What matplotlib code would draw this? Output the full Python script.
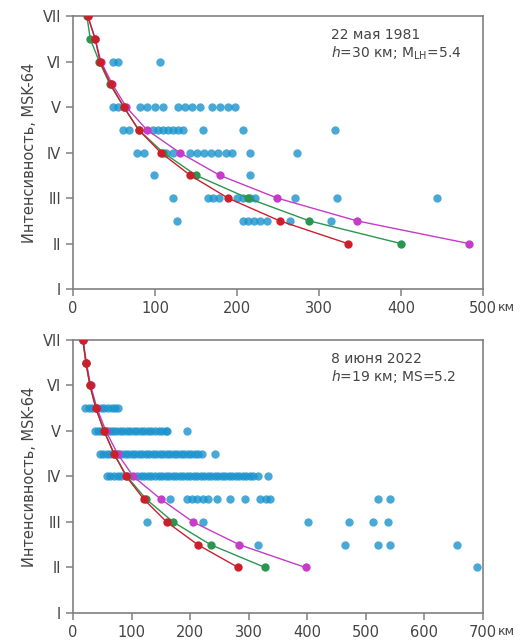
import matplotlib.pyplot as plt

roman = ["I", "II", "III", "IV", "V", "VI", "VII"]
levels = [7, 6.5, 6, 5.5, 5, 4.5, 4, 3.5, 3, 2.5, 2]

# 22 May 1981: observed points (distance km) per intensity level
obs1 = {
    6.0: [49, 55, 106],
    5.0: [49, 55, 82, 90, 100, 110, 128, 137, 145, 155, 169, 179, 189, 198],
    4.5: [61, 68, 98, 104, 110, 116, 122, 128, 134, 159, 207, 320],
    4.0: [78, 87, 114, 122, 143, 151, 160, 168, 177, 186, 194, 216, 273],
    3.5: [99, 216],
    3.0: [122, 165, 171, 178, 200, 207, 216, 222, 271, 322, 444],
    2.5: [127, 207, 214, 221, 228, 236, 265, 315],
}
red1 = [18, 27, 33, 46, 62, 80, 107, 143, 189, 252, 335]
green1 = [17, 21, 32, 45, 62, 80, 110, 150, 213, 288, 400]
magenta1 = [18, 27, 34, 48, 65, 90, 130, 179, 249, 346, 483]

# 8 June 2022
obs2 = {
    5.5: [21, 27, 33, 47, 53, 60, 66, 72, 77],
    5.0: [38, 43, 48, 58, 63, 68, 74, 80, 86, 92, 98, 104, 110, 116, 122,
          128, 134, 140, 146, 152, 158, 161, 195],
    4.5: [46, 52, 58, 64, 76, 82, 88, 94, 100, 106, 112, 118, 124, 130, 136,
          142, 148, 154, 160, 166, 172, 178, 184, 190, 196, 202, 208, 214,
          220, 243],
    4.0: [58, 64, 70, 76, 82, 110, 116, 122, 128, 134, 140, 146, 152, 158,
          164, 170, 176, 182, 188, 194, 200, 206, 212, 218, 224, 230, 236,
          242, 248, 254, 260, 266, 272, 278, 284, 290, 296, 302, 308, 316,
          333],
    3.5: [166, 195, 203, 212, 222, 231, 246, 268, 294, 320, 329, 337, 521, 542],
    3.0: [126, 222, 402, 472, 513, 538],
    2.5: [316, 465, 521, 542, 656],
    2.0: [689],
}
red2 = [17, 22, 29, 39, 53, 70, 91, 121, 160, 213, 282]
green2 = [17, 22, 29, 39, 53, 70, 92, 125, 171, 235, 328]
magenta2 = [17, 23, 30, 41, 56, 76, 103, 150, 205, 284, 397]

txt1 = "22 мая 1981\n$h$=30 км; M$_{\\rm LH}$=5.4"
txt2 = "8 июня 2022\n$h$=19 км; MS=5.2"

BLUE = "#1a93cc"
RED = "#cc1f2b"
GREEN = "#2a9650"
MAG = "#c43cc8"
GRAY = "#808080"
TXT = "#444444"


def draw_panel(ax, obs, red, green, magenta, xmax, xstep, label):
    for lev, xs in obs.items():
        ax.plot(xs, [lev] * len(xs), "o", color=BLUE, ms=6, mec="none",
                alpha=0.8, zorder=2)
    ax.plot(magenta, levels, "-o", color=MAG, lw=1, ms=6, mec="none", zorder=3)
    ax.plot(green, levels, "-o", color=GREEN, lw=1, ms=6, mec="none", zorder=4)
    ax.plot(red, levels, "-o", color=RED, lw=1, ms=6, mec="none", zorder=5)

    ax.set_xlim(0, xmax)
    ax.set_ylim(1, 7)
    ax.set_xticks(range(0, xmax + 1, xstep))
    ax.set_yticks(range(1, 8))
    ax.set_yticklabels(roman)
    for s in ax.spines.values():
        s.set_color(GRAY)
        s.set_linewidth(1.2)
    ax.tick_params(colors=GRAY, labelcolor=TXT, labelsize=10.5, length=5,
                   width=1.1)
    ax.set_ylabel("Интенсивность, MSK-64", color=TXT, fontsize=10.5,
                  labelpad=4)
    ax.annotate("км", xy=(xmax, 0), xycoords=("data", "axes fraction"),
                xytext=(11, -8.5), textcoords="offset points", va="top",
                ha="left", color=TXT, fontsize=9)
    ax.text(0.63, 0.955, label, transform=ax.transAxes, va="top", ha="left",
            color=TXT, fontsize=10, linespacing=1.15)


fig = plt.figure(figsize=(5.27, 6.41), dpi=100)
ax1 = fig.add_axes([0.1385, 0.549, 0.778, 0.426])
ax2 = fig.add_axes([0.1385, 0.0437, 0.778, 0.426])

draw_panel(ax1, obs1, red1, green1, magenta1, 500, 100, txt1)
draw_panel(ax2, obs2, red2, green2, magenta2, 700, 100, txt2)

fig.savefig("out.png", dpi=100)
